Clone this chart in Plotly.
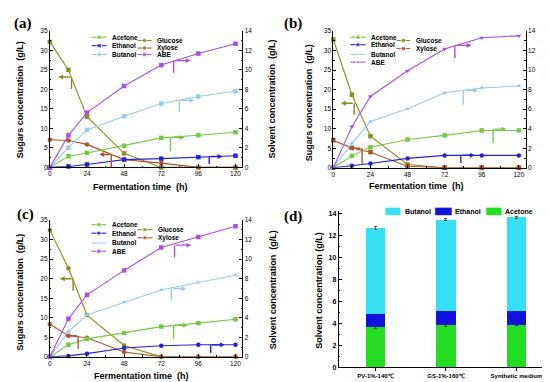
import plotly.graph_objects as go

# ---------------- data ----------------
time_h = [0, 12, 24, 48, 72, 96, 120]
x_ticks = [0, 24, 48, 72, 96, 120]
sugar_ticks = [0, 5, 10, 15, 20, 25, 30, 35]
solvent_ticks = [0, 2, 4, 6, 8, 10, 12, 14]

# panel (a)  sugars g/L (left axis), solvents g/L (right axis)
glucose_a = [32.2, 25.0, 13.0, 3.6, 0, 0, 0]
xylose_a = [7.1, 6.9, 5.9, 2.0, 1.1, 0, 0]
acetone_a = [0, 1.14, 1.48, 2.22, 3.03, 3.30, 3.60]
ethanol_a = [0, 0.10, 0.30, 0.80, 0.90, 1.05, 1.20]
butanol_a = [0, 2.02, 3.84, 5.25, 6.55, 7.27, 7.81]
abe_a = [0, 3.28, 5.62, 8.35, 10.50, 11.68, 12.69]

# panel (b)
glucose_b = [32.8, 18.7, 8.1, 0.85, 0, 0, 0]
xylose_b = [7.0, 5.1, 4.0, 0.4, 0, 0, 0]
acetone_b = [0, 1.22, 2.10, 2.90, 3.32, 3.82, 3.82]
ethanol_b = [0, 0.22, 0.44, 0.96, 1.27, 1.27, 1.27]
butanol_b = [0, 2.50, 4.73, 6.04, 7.67, 8.17, 8.37]
abe_b = [0, 4.20, 7.30, 9.92, 12.16, 13.30, 13.50]

# panel (c)
glucose_c = [32.4, 22.7, 10.7, 2.9, 0, 0, 0]
xylose_c = [8.35, 5.4, 4.9, 1.25, 0, 0, 0]
acetone_c = [0, 1.24, 1.84, 2.44, 3.10, 3.45, 3.85]
ethanol_c = [0, 0.10, 0.33, 0.90, 1.14, 1.24, 1.24]
butanol_c = [0, 2.60, 4.28, 5.60, 6.85, 7.62, 8.36]
abe_c = [0, 3.91, 6.35, 8.85, 11.20, 12.27, 13.37]

# panel (d)
categories_d = ["PV-1%-140\u2103", "GS-1%-160\u2103", "Synthetic medium"]
acetone_d = [3.63, 3.79, 3.80]
ethanol_d = [1.20, 1.28, 1.33]
butanol_d = [7.83, 8.33, 8.49]
acetone_d_err = [0.08, 0.06, 0.06]
ethanol_d_err = [0.05, 0.04, 0.04]
butanol_d_err = [0.10, 0.08, 0.06]

# axis-pointing arrows (series, corner x, corner y, arrow-head x, vertical-end y) in sugar-axis units
arrows_a = [("Glucose", 14, 23.2, 5.4, 20.1), ("Xylose", 39.7, 3.3, 32, 0),
            ("ABE", 80, 27.4, 91, 24.3), ("Butanol", 83.7, 17.2, 93.4, 14.2),
            ("Acetone", 78, 7.7, 87, 4.1), ("Ethanol", 103, 2.8, 111.6, 0.9)]
arrows_b = [("Glucose", 13.5, 16.5, 4.9, 13.5), ("Xylose", 18.6, 5.0, 9.6, 0.84),
            ("ABE", 78.6, 31.3, 89.4, 28.1), ("Butanol", 84, 19.8, 93.6, 16.2),
            ("Acetone", 103.3, 9.9, 111.9, 6.4), ("Ethanol", 82.5, 3.2, 91.5, 1.2)]
arrows_c = [("Glucose", 15, 20.0, 6.5, 16.9), ("Xylose", 18.3, 5.4, 9.7, 2.1),
            ("ABE", 80.6, 28.6, 91.4, 25.5), ("Butanol", 78.5, 17.5, 88, 14.4),
            ("Acetone", 80, 8.1, 89, 4.6), ("Ethanol", 104, 3.1, 113, 1.0)]

# ---------------- style ----------------
W, H = 550, 382
FONT = "Liberation Sans"
SERIF = "Liberation Serif"
COL = {"Acetone": "#74C840", "Ethanol": "#2424CF", "Butanol": "#95CCEA",
       "ABE": "#AA4DE6", "Glucose": "#8C8C1E", "Xylose": "#B0532C"}
BAR_COL = {"Acetone": "#22DD22", "Ethanol": "#1212DE", "Butanol": "#36E0F4"}

def px_x(p):
    return p / W

def px_y(p):
    return 1 - p / H

panels = [
    dict(xa="x", yl="y", yr="y2", xdom=[40, 233.3], ydom=[158.3, 19.3],
         sugars={"Glucose": glucose_a, "Xylose": xylose_a},
         solvents={"Acetone": acetone_a, "Ethanol": ethanol_a, "Butanol": butanol_a, "ABE": abe_a},
         sym={"Acetone": "square", "Ethanol": "square", "Butanol": "square", "ABE": "square",
              "Glucose": "square", "Xylose": "circle"},
         arrows=arrows_a),
    dict(xa="x2", yl="y3", yr="y4", xdom=[324.5, 517.7], ydom=[158.7, 19.3],
         sugars={"Glucose": glucose_b, "Xylose": xylose_b},
         solvents={"Acetone": acetone_b, "Ethanol": ethanol_b, "Butanol": butanol_b, "ABE": abe_b},
         sym={"Acetone": "square", "Ethanol": "circle", "Butanol": "triangle-up", "ABE": "triangle-down",
              "Glucose": "square", "Xylose": "square"},
         arrows=arrows_b),
    dict(xa="x3", yl="y5", yr="y6", xdom=[40, 233.3], ydom=[351.3, 212],
         sugars={"Glucose": glucose_c, "Xylose": xylose_c},
         solvents={"Acetone": acetone_c, "Ethanol": ethanol_c, "Butanol": butanol_c, "ABE": abe_c},
         sym={"Acetone": "square", "Ethanol": "circle", "Butanol": "triangle-up", "ABE": "square",
              "Glucose": "circle", "Xylose": "circle"},
         arrows=arrows_c),
]

fig = go.Figure()
layout = dict(width=W, height=H, margin=dict(l=0, r=0, t=0, b=0),
              paper_bgcolor="white", plot_bgcolor="rgba(0,0,0,0)",
              showlegend=False, font=dict(family=FONT, color="black"))
shapes, annots = [], []

def axname(ref):
    return ("xaxis" if ref[0] == "x" else "yaxis") + ref[1:]

tickfont = dict(family=FONT, size=6.5, color="black")
for p in panels:
    xd = [px_x(p["xdom"][0]), px_x(p["xdom"][1])]
    yd = [px_y(p["ydom"][0]), px_y(p["ydom"][1])]
    layout[axname(p["xa"])] = dict(domain=xd, anchor=p["yl"], range=[0, 124.5], tickvals=x_ticks,
                                  showline=True, linecolor="black", linewidth=1, ticks="inside",
                                  ticklen=3, tickcolor="black", showgrid=False, zeroline=False,
                                  tickfont=tickfont,
                                  minor=dict(ticks="inside", ticklen=1.5, dtick=12, tick0=0, tickcolor="black"))
    layout[axname(p["yl"])] = dict(domain=yd, anchor=p["xa"], range=[0, 35], tickvals=sugar_ticks,
                                  showline=True, linecolor="black", linewidth=1, ticks="inside",
                                  ticklen=3, tickcolor="black", showgrid=False, zeroline=False,
                                  tickfont=tickfont,
                                  minor=dict(ticks="inside", ticklen=1.5, dtick=2.5, tick0=0, tickcolor="black"))
    layout[axname(p["yr"])] = dict(overlaying=p["yl"], anchor=p["xa"], side="right", range=[0, 14],
                                  tickvals=solvent_ticks, showline=True, linecolor="black", linewidth=1,
                                  ticks="inside", ticklen=3, tickcolor="black", showgrid=False,
                                  zeroline=False, tickfont=tickfont,
                                  minor=dict(ticks="inside", ticklen=1.5, dtick=1, tick0=0, tickcolor="black"))
    for name, vals in p["sugars"].items():
        fig.add_trace(go.Scatter(x=time_h, y=vals, xaxis=p["xa"], yaxis=p["yl"], mode="lines+markers",
                                 line=dict(color=COL[name], width=1.1), cliponaxis=False,
                                 marker=dict(symbol=p["sym"][name], size=4.5, color=COL[name]), name=name))
    for name, vals in p["solvents"].items():
        fig.add_trace(go.Scatter(x=time_h, y=vals, xaxis=p["xa"], yaxis=p["yr"], mode="lines+markers",
                                 line=dict(color=COL[name], width=1.1), cliponaxis=False,
                                 marker=dict(symbol=p["sym"][name], size=4.5, color=COL[name]), name=name))
    for name, xc, yc, xh, yb in p["arrows"]:
        shapes.append(dict(type="line", xref=p["xa"], yref=p["yl"], x0=xc, x1=xc, y0=yc, y1=yb,
                           line=dict(color=COL[name], width=1.4)))
        annots.append(dict(x=xh, y=yc, ax=xc, ay=yc, xref=p["xa"], yref=p["yl"], axref=p["xa"],
                           ayref=p["yl"], text="", showarrow=True, arrowhead=2, arrowsize=0.7,
                           arrowwidth=1.4, arrowcolor=COL[name], standoff=0))

# panel (d)
layout["xaxis4"] = dict(domain=[px_x(330), px_x(545)], anchor="y7", range=[-0.52, 2.52], type="category",
                        showline=True, linecolor="black", linewidth=1, ticks="outside", ticklen=3,
                        tickcolor="black", showgrid=False,
                        tickfont=dict(family=FONT, size=6, color="black", weight="bold"))
layout["yaxis7"] = dict(domain=[px_y(361.7), px_y(202.8)], anchor="x4", range=[0, 14.2],
                        tickvals=solvent_ticks, showline=True, linecolor="black", linewidth=1,
                        ticks="inside", ticklen=3, tickcolor="black", showgrid=False, zeroline=False,
                        tickfont=dict(family=FONT, size=7, color="black", weight="bold"),
                        minor=dict(ticks="inside", ticklen=1.5, dtick=1, tick0=0, tickcolor="black"))
for name, vals, err in [("Acetone", acetone_d, acetone_d_err), ("Ethanol", ethanol_d, ethanol_d_err),
                        ("Butanol", butanol_d, butanol_d_err)]:
    fig.add_trace(go.Bar(x=categories_d, y=vals, xaxis="x4", yaxis="y7", width=0.28, name=name,
                         marker=dict(color=BAR_COL[name], line=dict(width=0)),
                         error_y=dict(type="data", array=err, color="#333333", thickness=0.8, width=1.5)))
layout["barmode"] = "stack"

# overlay pixel axes for legends
layout["xaxis5"] = dict(domain=[0, 1], anchor="y8", range=[0, W], visible=False, fixedrange=True)
layout["yaxis8"] = dict(domain=[0, 1], anchor="x5", range=[H, 0], visible=False, fixedrange=True)

legend_entries = {
    0: [("Acetone", 82, 97, 25.7), ("Ethanol", 82, 97, 34.3), ("Butanol", 82, 97, 43.3),
        ("Glucose", 128, 142, 29), ("Xylose", 128, 142, 36.7), ("ABE", 128, 142, 43.3)],
    1: [("Acetone", 341.7, 356.7, 25.7), ("Ethanol", 341.7, 356.7, 33.3), ("Butanol", 341.7, 356.7, 43.3),
        ("ABE", 341.7, 356.7, 51), ("Glucose", 388, 401.7, 29), ("Xylose", 388, 401.7, 37.3)],
    2: [("Acetone", 81.7, 96.7, 216.7), ("Ethanol", 81.7, 96.7, 225.3), ("Butanol", 81.7, 96.7, 235.3),
        ("ABE", 81.7, 96.7, 243.7), ("Glucose", 128, 143, 221.7), ("Xylose", 128, 143, 230)],
}
for i, entries in legend_entries.items():
    sym = panels[i]["sym"]
    for name, x0, x1, y in entries:
        fig.add_trace(go.Scatter(x=[x0, (x0 + x1) / 2, x1], y=[y, y, y], xaxis="x5", yaxis="y8",
                                 mode="lines+markers", line=dict(color=COL[name], width=1.1),
                                 marker=dict(symbol=sym[name], size=[0, 4.5, 0], color=COL[name]),
                                 hoverinfo="skip"))
        annots.append(dict(x=x1 + 3.5, y=y, xref="x5", yref="y8", text="<b>%s</b>" % name, showarrow=False,
                           xanchor="left", yanchor="middle", font=dict(family=FONT, size=6.5, color="black")))

for name, x0, x1, tx in [("Butanol", 376.7, 391.7, 394), ("Ethanol", 426.7, 443.3, 445),
                         ("Acetone", 478, 493.3, 495)]:
    shapes.append(dict(type="rect", xref="x5", yref="y8", x0=x0, x1=x1, y0=199.3, y1=207,
                       fillcolor=BAR_COL[name], line=dict(width=0)))
    annots.append(dict(x=tx, y=203.2, xref="x5", yref="y8", text="<b>%s</b>" % name, showarrow=False,
                       xanchor="left", yanchor="middle", font=dict(family=FONT, size=7, color="black")))

# axis titles and panel labels (pixel positions)
title_font = dict(family=FONT, size=9, color="black")
texts = [
    ("Sugars concentration  (g/L)", 10, 89, -90), ("Solvent concentration  (g/L)", 263, 89, -90),
    ("Fermentation time  (h)", 131, 178, 0),
    ("Sugars concentration  (g/L)", 300, 92, -90), ("Solvent concentration  (g/L)", 538.5, 89, -90),
    ("Fermentation time  (h)", 408, 177.5, 0),
    ("Sugars concentration  (g/L)", 10, 285, -90), ("Solvent concentration  (g/L)", 263.3, 283, -90),
    ("Fermentation time  (h)", 131.5, 371, 0),
    ("Solvent concentration (g/L)", 310.5, 283.5, -90),
]
for t, x, y, ang in texts:
    annots.append(dict(x=x, y=y, xref="x5", yref="y8", text="<b>%s</b>" % t, showarrow=False,
                       textangle=ang, xanchor="center", yanchor="middle", font=title_font))
for t, x, y in [("(a)", 13, 12), ("(b)", 284, 12), ("(c)", 16, 206), ("(d)", 284, 208)]:
    annots.append(dict(x=x, y=y, xref="x5", yref="y8", text="<b>%s</b>" % t, showarrow=False,
                       xanchor="center", yanchor="middle", font=dict(family=SERIF, size=15, color="black")))

layout["shapes"] = shapes
layout["annotations"] = annots
fig.update_layout(**layout)
fig.write_html("out.html")
